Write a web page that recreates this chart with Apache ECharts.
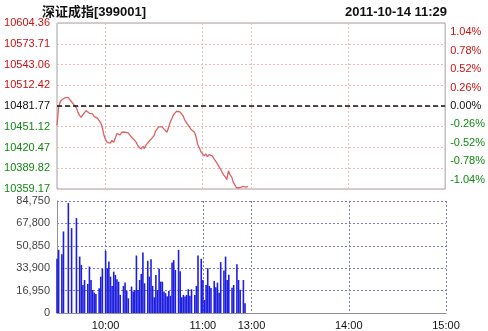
<!DOCTYPE html>
<html><head><meta charset="utf-8">
<script src="https://cdn.jsdelivr.net/npm/echarts@6/dist/echarts.min.js"></script>
<style>html,body{margin:0;padding:0;background:#fff}#c{width:488px;height:331px}</style>
</head><body><div id="c"></div><script>
const titleText = '深证成指[399001]';
const timeText = '2011-10-14 11:29';
const prevClose = 10481.77;
const priceTicks = ['10359.17','10389.82','10420.47','10451.12','10481.77','10512.42','10543.06','10573.71','10604.36'];
const pctTicks = [-1.04,-0.78,-0.52,-0.26,0,0.26,0.52,0.78,1.04];
const volMax = 84750;
const volStep = 16950;
const timeLabels = ['10:00','11:00','13:00','14:00','15:00'];

const prices = [
10453,10480,10488,10491,10493,10494,10493,10494,10492,10488,
10486,10482,10479,10472,10468,10465,10469,10471,10475,10474,
10471,10469,10470,10466,10467,10464,10464,10457,10450,10439,
10432,10428,10430,10427,10431,10428,10434,10441,10440,10439,
10443,10445,10443,10444,10442,10440,10436,10437,10431,10428,
10423,10422,10418,10422,10419,10424,10425,10430,10430,10435,
10438,10445,10448,10451,10449,10451,10448,10447,10443,10450,
10458,10463,10469,10471,10474,10472,10473,10470,10467,10461,
10459,10454,10453,10447,10447,10443,10436,10425,10420,10414,
10413,10408,10411,10407,10410,10408,10408,10404,10403,10397,
10395,10389,10387,10380,10377,10373,10386,10380,10377,10369,
10367,10361,10359,10361,10362,10363,10363,10362,10363
];

const volumes = [
41000,47800,0,44500,61700,0,0,83200,0,64200,
0,0,71800,0,42700,36400,21200,25000,0,22000,
35100,25000,17400,15400,14400,0,18700,27500,33400,0,
47000,33900,38900,27500,20500,31300,28800,25500,23700,13700,
0,20500,23000,17000,11100,0,20000,16200,17400,43500,
17400,25000,29600,45800,22500,0,39500,27500,40700,20500,
11900,28800,17400,33400,23700,23700,16200,15000,12600,16600,
13000,38200,40000,32600,0,47800,31600,11900,13700,12400,
13600,18000,13000,18000,0,13600,20500,43500,0,41000,
25000,9900,21200,33900,20500,18900,0,24300,19500,23000,
15400,38500,0,32100,42700,25000,29000,0,19200,21200,
0,36900,25000,17500,0,25000,7300
];

const minutes = [];
for (let m = 0; m <= 240; m++) {
  const t = m < 120 ? 9*60+30+m : 13*60+(m-120);
  const h = Math.floor(t/60), mm = t%60;
  minutes.push((h<10?'0':'')+h+':'+(mm<10?'0':'')+mm);
}
const isLabel = (i) => timeLabels.indexOf(minutes[i]) >= 0;
const priceNums = priceTicks.map(Number);
const pMin = priceNums[0], pMax = priceNums[priceNums.length-1];
const pctMin = (pMin/prevClose-1)*100, pctMax = (pMax/prevClose-1)*100;
const RED = '#cc1111', GREEN = '#118811';
const FONT = 'Liberation Sans, Arial, sans-serif';

const chart = echarts.init(document.getElementById('c'), null, {renderer:'canvas'});
chart.setOption({
  animation: false,
  title: [
    {text: titleText, left: 37, top: 1, textStyle: {fontSize: 13, fontWeight: 'bold', color: '#111', fontFamily: 'Liberation Sans, Noto Sans CJK SC, sans-serif'}},
    {text: timeText, right: 36, top: 1, textStyle: {fontSize: 13, fontWeight: 'bold', color: '#111', fontFamily: FONT}}
  ],
  grid: [
    {left: 57, right: 42, top: 23, height: 166, show: true, borderColor: '#a0a0a0', borderWidth: 1, backgroundColor: '#fff'},
    {left: 57, right: 42, top: 201, height: 112}
  ],
  xAxis: [
    {gridIndex: 0, type: 'category', boundaryGap: false, data: minutes,
     axisLine: {show: false}, axisTick: {show: false}, axisLabel: {show: false},
     splitLine: {show: true, interval: (i) => isLabel(i) && i !== 240, lineStyle: {color: '#f0b8b8', type: [2,2], width: 1}}},
    {gridIndex: 1, type: 'category', boundaryGap: false, data: minutes,
     axisLine: {show: true, lineStyle: {color: '#909090'}}, axisTick: {show: false},
     axisLabel: {show: true, interval: (i) => isLabel(i), color: '#111', fontSize: 11, fontFamily: FONT, margin: 7},
     splitLine: {show: true, interval: (i) => isLabel(i), lineStyle: {color: '#7a7ad0', type: [2,2], width: 1}}}
  ],
  yAxis: [
    {gridIndex: 0, type: 'value', min: pMin, max: pMax, position: 'left',
     axisLine: {show: false}, axisTick: {show: false, customValues: priceNums},
     axisLabel: {customValues: priceNums, margin: 7, fontSize: 11, fontFamily: FONT,
       formatter: (v) => v.toFixed(2),
       color: (v) => { v = Number(v); return v > prevClose + 0.01 ? RED : (v < prevClose - 0.01 ? GREEN : '#111'); }},
     splitLine: {show: true, lineStyle: {color: '#f0b8b8', type: [2,2], width: 1}}},
    {gridIndex: 0, type: 'value', min: pctMin, max: pctMax, position: 'right',
     axisLine: {show: false}, axisTick: {show: false, customValues: pctTicks},
     axisLabel: {customValues: pctTicks, margin: 5, fontSize: 11, fontFamily: FONT,
       formatter: (v) => v.toFixed(2) + '%',
       color: (v) => { v = Number(v); return v > 0.001 ? RED : (v < -0.001 ? GREEN : '#111'); }},
     splitLine: {show: false}},
    {gridIndex: 1, type: 'value', min: 0, max: volMax, interval: volStep, position: 'left',
     axisLine: {show: true, lineStyle: {color: '#909090'}}, axisTick: {show: false},
     axisLabel: {margin: 7, fontSize: 11, fontFamily: FONT, color: '#444',
       formatter: (v) => v.toLocaleString('en-US')},
     splitLine: {show: true, lineStyle: {color: '#7a7ad0', type: [2,2], width: 1}}}
  ],
  series: [
    {type: 'line', xAxisIndex: 0, yAxisIndex: 0, data: prices, symbol: 'none', smooth: false,
     lineStyle: {color: '#e06060', width: 1.3},
     markLine: {silent: true, symbol: 'none', label: {show: false},
       lineStyle: {color: '#111', type: [5,3], width: 1.5},
       data: [{yAxis: prevClose}]}},
    {type: 'bar', xAxisIndex: 1, yAxisIndex: 2, data: volumes, barWidth: 1.6,
     itemStyle: {color: '#1e1ee0'}}
  ]
});
</script></body></html>
